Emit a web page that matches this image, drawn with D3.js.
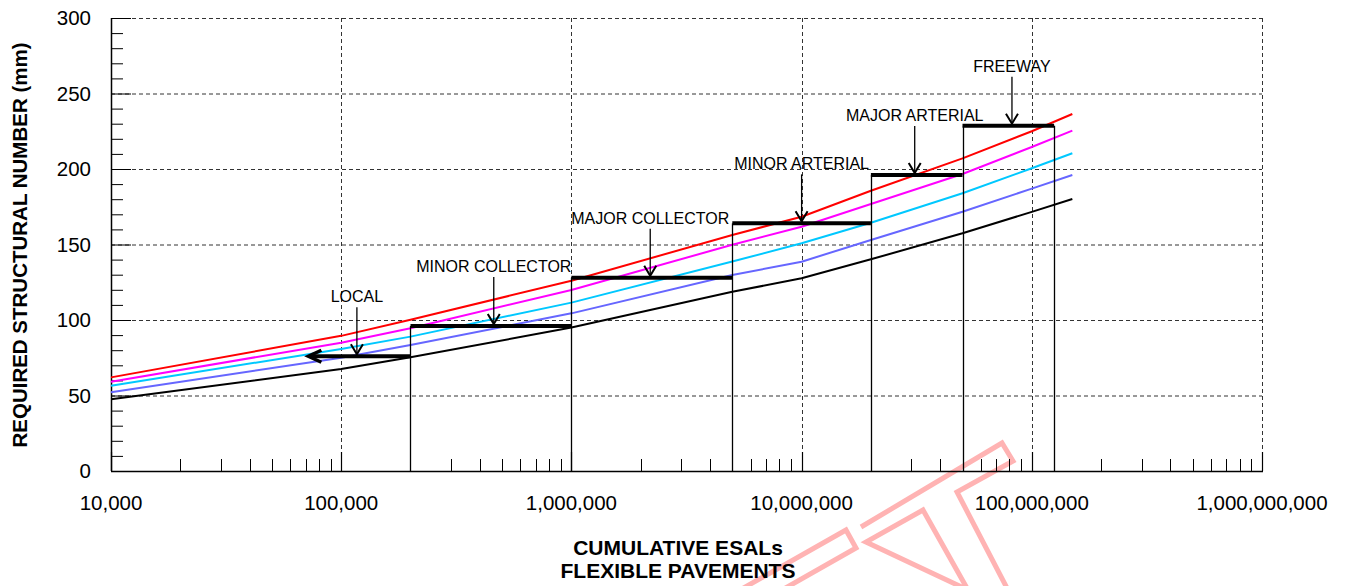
<!DOCTYPE html>
<html>
<head>
<meta charset="utf-8">
<script src="https://cdn.jsdelivr.net/npm/d3@7"></script>
<style>
    body { margin: 0; background: #fff; }
    svg { font-family: Arial, "Liberation Sans", sans-serif; }
</style>
</head>
<body>
<svg id="chart" width="1347" height="586"></svg>
<script>
// cumulative ESALs where the design curves were read
var esal = [1e4, 1e5, 2e5, 1e6, 5e6, 1e7, 2e7, 5e7, 1e8, 1.5e8];
// required structural number (mm), one array per curve
var snRed     = [62, 89.5, 100.2, 126, 156.3, 168.4, 185.6, 207, 225, 236.4];
var snMagenta = [59.1, 85, 94.5, 119.9, 149.8, 161.8, 176.8, 196.7, 214.6, 225.4];
var snCyan    = [56.5, 80.8, 89, 111.5, 138.7, 150.8, 164.4, 183.9, 200.5, 210.4];
var snBlue    = [52.1, 75, 83.4, 104.4, 129.8, 138.6, 153, 171.7, 187, 196];
var snBlack   = [47.5, 67.5, 75.3, 95, 118.7, 127.6, 140.2, 157.4, 171.6, 180.1];

// road classes (steps)
var classNames = ["LOCAL", "MINOR COLLECTOR", "MAJOR COLLECTOR", "MINOR ARTERIAL", "MAJOR ARTERIAL", "FREEWAY"];
var classFrom = [7.2e4, 2e5, 1e6, 5e6, 2e7, 5e7];
var classTo = [2e5, 1e6, 5e6, 2e7, 5e7, 1.25e8];
var classSN = [76, 96, 128, 164, 196, 228.7];
var classArrowAt = [1.17e5, 4.6e5, 2.2e6, 1e7, 3.1e7, 8.2e7];

var xTicks = [1e4, 1e5, 1e6, 1e7, 1e8, 1e9];
var yTicks = [0, 50, 100, 150, 200, 250, 300];

drawChart();

function drawChart() {
    var svg = d3.select("#chart");
    var pLeft = 111, pRight = 1262, pTop = 18, pBottom = 471;

    var x = d3.scaleLog().domain([1e4, 1e9]).range([pLeft, pRight]);
    var y = d3.scaleLinear().domain([0, 300]).range([pBottom, pTop]);

    // watermark (decoration only)
    var wm = svg.append("g")
        .attr("fill", "none")
        .attr("stroke", "#ffb3b3")
        .attr("stroke-width", 5);
    wm.append("path").attr("d", "M740,590 L846,530 L856,548 L782,590");
    wm.append("path").attr("d", "M861,527 L1002,443 L1013,461 L957,492 L1008,590 M968,590 L923,510 L866,542 Z");

    // grid
    var grid = svg.append("g")
        .attr("stroke", "#333")
        .attr("stroke-width", 1)
        .attr("stroke-dasharray", "4,3");

    grid.selectAll("line.h")
        .data(yTicks.filter(function (d) { return d > 0; }))
        .enter().append("line")
        .attr("x1", pLeft).attr("x2", pRight)
        .attr("y1", function (d) { return y(d) + 0.5; })
        .attr("y2", function (d) { return y(d) + 0.5; });

    grid.selectAll("line.v")
        .data(xTicks.slice(1))
        .enter().append("line")
        .attr("x1", function (d) { return Math.round(x(d)) + 0.5; })
        .attr("x2", function (d) { return Math.round(x(d)) + 0.5; })
        .attr("y1", pTop).attr("y2", pBottom);

    // axis lines
    svg.append("line").attr("x1", pLeft + 0.5).attr("x2", pLeft + 0.5)
        .attr("y1", pTop).attr("y2", pBottom).attr("stroke", "#000").attr("stroke-width", 1.5);
    svg.append("line").attr("x1", pLeft).attr("x2", pRight + 1)
        .attr("y1", pBottom + 0.5).attr("y2", pBottom + 0.5).attr("stroke", "#000").attr("stroke-width", 1.5);

    // y ticks (inside)
    var yMinor = d3.range(0, 301, 10);
    svg.append("g").selectAll("line")
        .data(yMinor)
        .enter().append("line")
        .attr("x1", pLeft)
        .attr("x2", function (d) { return d % 50 === 0 ? pLeft + 20 : pLeft + 12; })
        .attr("y1", function (d) { return y(d) + 0.5; })
        .attr("y2", function (d) { return y(d) + 0.5; })
        .attr("stroke", "#000")
        .attr("stroke-width", 1);

    // x ticks (inside)
    var xMinor = [];
    for (var e = 4; e < 9; e++) {
        for (var m = 2; m <= 9; m++) xMinor.push(m * Math.pow(10, e));
    }
    svg.append("g").selectAll("line")
        .data(xMinor)
        .enter().append("line")
        .attr("x1", function (d) { return Math.round(x(d)) + 0.5; })
        .attr("x2", function (d) { return Math.round(x(d)) + 0.5; })
        .attr("y1", pBottom).attr("y2", pBottom - 12)
        .attr("stroke", "#000").attr("stroke-width", 1);
    svg.append("g").selectAll("line")
        .data(xTicks)
        .enter().append("line")
        .attr("x1", function (d) { return Math.round(x(d)) + 0.5; })
        .attr("x2", function (d) { return Math.round(x(d)) + 0.5; })
        .attr("y1", pBottom).attr("y2", pBottom - 19)
        .attr("stroke", "#000").attr("stroke-width", 1.2);

    // tick labels
    var fmt = d3.format(",");
    svg.append("g").selectAll("text")
        .data(yTicks)
        .enter().append("text")
        .attr("x", 91)
        .attr("y", function (d) { return y(d); })
        .attr("dy", "0.36em")
        .attr("text-anchor", "end")
        .style("font-size", "20.5px")
        .text(function (d) { return d; });

    svg.append("g").selectAll("text")
        .data(xTicks)
        .enter().append("text")
        .attr("x", function (d) { return x(d); })
        .attr("y", 510)
        .attr("text-anchor", "middle")
        .style("font-size", "20.5px")
        .text(function (d) { return fmt(d); });

    // axis titles
    svg.append("text")
        .attr("transform", "translate(27,245) rotate(-90)")
        .attr("text-anchor", "middle")
        .style("font-size", "20.5px")
        .style("font-weight", "bold")
        .text("REQUIRED STRUCTURAL NUMBER (mm)");

    svg.append("text")
        .attr("x", 678).attr("y", 555)
        .attr("text-anchor", "middle")
        .style("font-size", "21px")
        .style("font-weight", "bold")
        .text("CUMULATIVE ESALs");
    svg.append("text")
        .attr("x", 678).attr("y", 578)
        .attr("text-anchor", "middle")
        .style("font-size", "21px")
        .style("font-weight", "bold")
        .text("FLEXIBLE PAVEMENTS");

    // design curves
    var curves = [
        { values: snBlack, color: "#000000" },
        { values: snBlue, color: "#6666ff" },
        { values: snCyan, color: "#00c8ff" },
        { values: snMagenta, color: "#ff00ff" },
        { values: snRed, color: "#ff0000" }
    ];
    var line = d3.line()
        .x(function (d) { return x(d[0]); })
        .y(function (d) { return y(d[1]); });

    svg.append("g").selectAll("path")
        .data(curves)
        .enter().append("path")
        .attr("d", function (c) { return line(d3.zip(esal, c.values)); })
        .attr("fill", "none")
        .attr("stroke", function (c) { return c.color; })
        .attr("stroke-width", 2)
        .attr("stroke-linejoin", "round");

    // road class steps
    var steps = svg.append("g");
    classNames.forEach(function (name, i) {
        var x0 = x(classFrom[i]), x1 = x(classTo[i]), yy = y(classSN[i]);
        // vertical drop lines
        if (i > 0) {
            steps.append("line")
                .attr("x1", Math.round(x0) + 0.5).attr("x2", Math.round(x0) + 0.5)
                .attr("y1", yy).attr("y2", pBottom)
                .attr("stroke", "#000").attr("stroke-width", 1.3);
        }
        if (i === classNames.length - 1) {
            steps.append("line")
                .attr("x1", Math.round(x1) + 0.5).attr("x2", Math.round(x1) + 0.5)
                .attr("y1", yy).attr("y2", pBottom)
                .attr("stroke", "#000").attr("stroke-width", 1.3);
        }
        // thick bar
        steps.append("line")
            .attr("x1", i === 0 ? x0 + 2 : x0).attr("x2", x1)
            .attr("y1", yy).attr("y2", yy)
            .attr("stroke", "#000").attr("stroke-width", 4);
        if (i === 0) {
            // left pointing arrow head on LOCAL bar
            steps.append("path")
                .attr("d", "M" + (x0 + 13) + "," + (yy - 6) + "L" + x0 + "," + yy + "L" + (x0 + 13) + "," + (yy + 6))
                .attr("fill", "none").attr("stroke", "#000").attr("stroke-width", 3.5);
        }
        // label and down arrow
        var ax = x(classArrowAt[i]);
        steps.append("text")
            .attr("x", ax).attr("y", yy - 54)
            .attr("text-anchor", "middle")
            .style("font-size", "16px")
            .text(name);
        steps.append("line")
            .attr("x1", ax).attr("x2", ax)
            .attr("y1", yy - 49).attr("y2", yy - 2)
            .attr("stroke", "#000").attr("stroke-width", 1.3);
        steps.append("path")
            .attr("d", "M" + (ax - 6) + "," + (yy - 12) + "L" + ax + "," + (yy - 2) + "L" + (ax + 6) + "," + (yy - 12))
            .attr("fill", "none").attr("stroke", "#000").attr("stroke-width", 2);
    });
}
</script>
</body>
</html>
